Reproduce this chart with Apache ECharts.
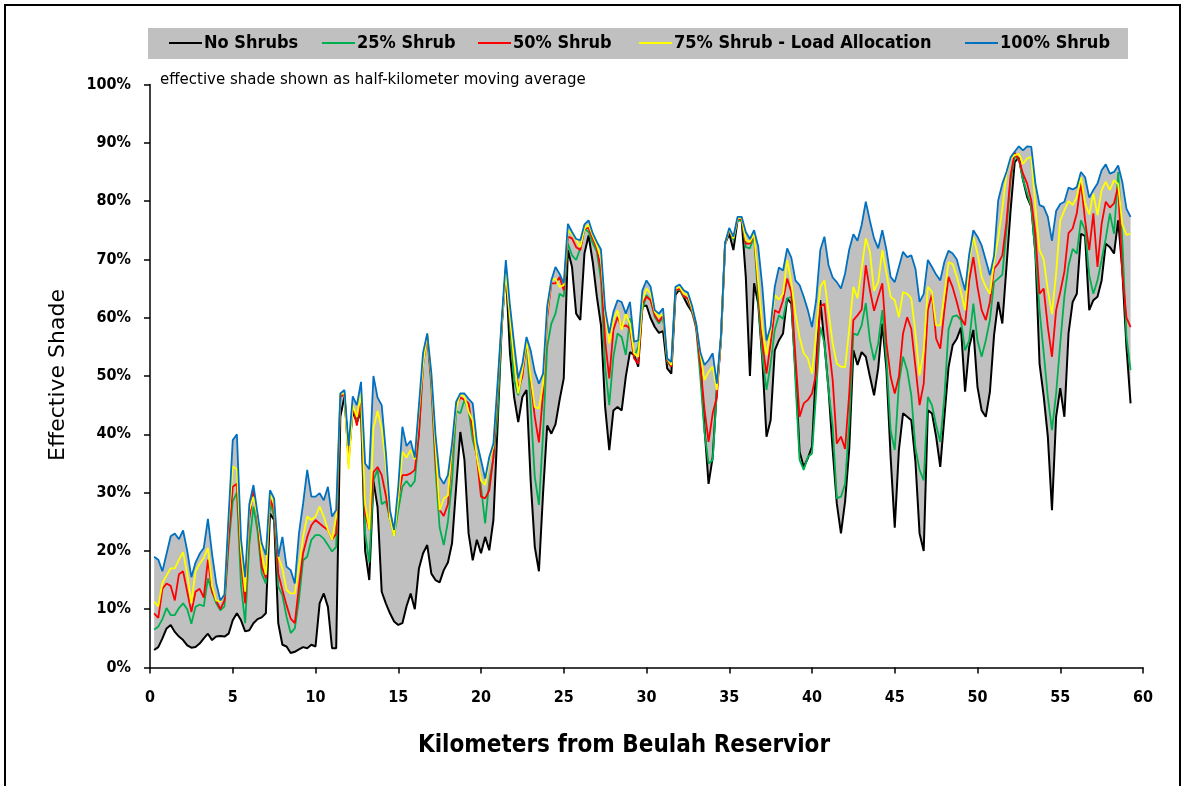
<!DOCTYPE html>
<html>
<head>
<meta charset="utf-8">
<script src="https://cdn.jsdelivr.net/npm/echarts@6/dist/echarts.min.js"></script>
<style>
  html, body { margin: 0; padding: 0; background: #ffffff; }
  #chart { width: 1182px; height: 786px; }
</style>
</head>
<body>
<div id="chart"></div>
<script>
// Effective shade along the stream, sampled every quarter kilometre (values in %)
const KM_START = 0.25;
const KM_STEP = 0.25;

const noShrubs = [
  3.0, 3.5, 5.0, 6.7, 7.3, 6.1, 5.3, 4.7, 3.8, 3.4, 3.5, 4.1, 5.0, 5.8, 4.7, 5.3, 5.4, 5.3, 5.8, 8.1, 9.3, 8.1, 6.2, 6.4,
  7.6, 8.3, 8.6, 9.3, 26.4, 25.3, 7.6, 3.9, 3.6, 2.5, 2.7, 3.1, 3.5, 3.3, 3.9, 3.6, 11, 12.7, 10.4, 3.3, 3.3, 43, 46.5, 36,
  44, 42, 44, 20, 15, 32, 27.5, 13, 11, 9.3, 7.9, 7.3, 7.6, 10.5, 12.7, 10, 17, 19.6, 21, 16.1, 15, 14.6, 16.7, 18,
  21.3, 31, 40.4, 35.6, 23, 18.4, 21.9, 19.6, 22.4, 20.1, 25.3, 41.3, 58.4, 68.1, 53.9, 46.4, 42.1, 46.4, 47.6, 32.1, 20.7, 16.5, 29.9, 41.5,
  40.1, 41.7, 45.9, 49.6, 71.6, 68.7, 60.7, 59.6, 71, 74.1, 69.6, 63.6, 58.7, 44.7, 37.3, 44.1, 44.7, 44.1, 49.9, 54.1, 53.6, 51.6, 61.9, 62.1,
  59.9, 58.4, 57.4, 57.7, 51.3, 50.4, 63.9, 64.9, 63.5, 62.1, 61, 58.8, 52.1, 41.3, 31.5, 36.1, 47.6, 56.4, 72.7, 74.4, 71.6, 76.7, 76.7, 67,
  50, 65.9, 62.4, 52.7, 39.6, 42.4, 54.4, 56.1, 57.3, 63.3, 62.4, 51, 37, 34.4, 35.9, 37.9, 51.6, 63, 55.6, 47.6, 37.3, 28.1, 23, 28.5,
  37.5, 54.4, 51.9, 54.1, 53.3, 49.9, 46.7, 51.3, 59, 51, 36.1, 24, 37.3, 43.6, 43, 42.4, 35.3, 23, 20, 44.1, 43.6, 39.6, 34.4, 43,
  51.5, 55.3, 56.4, 58.3, 47.3, 55, 57.9, 48.1, 44.1, 43, 47.3, 57, 62.7, 59, 68.7, 78.4, 86.7, 87.5, 83.6, 80.7, 79, 71, 52.1, 46.5,
  39.6, 27, 43, 47.9, 43, 57.3, 62.7, 64.1, 74.4, 74, 61.3, 63, 63.6, 66.4, 72.7, 72.1, 71, 76.7, 68.1, 55, 45.3
];

const shrub25 = [
  6.5, 7.0, 8.3, 10.2, 9.0, 9.0, 10.2, 11.0, 10.0, 7.5, 10.4, 10.8, 10.5, 15.3, 13.0, 11.0, 9.8, 10.5, 21, 28.5, 30, 14, 7.6, 21,
  27.6, 23.3, 16.1, 14.4, 28.4, 25.9, 13.9, 12.4, 8.7, 5.9, 6.7, 11.6, 18.4, 19, 21.9, 22.7, 22.7, 22.1, 21, 19.9, 20.7, 46.4, 47, 36,
  45, 42, 45, 23, 18, 32, 34, 28, 28.5, 25.5, 22.5, 27, 31, 32, 31, 32, 40, 52, 57, 48, 34, 24, 21, 25,
  32, 44, 43.6, 45.9, 44, 39, 36.4, 31, 24.7, 32, 35.9, 43.3, 58.4, 68.6, 58.4, 49.3, 46.7, 50.4, 56.1, 44.7, 32.7, 27.9, 40.1, 55,
  59, 60.7, 64.1, 63.6, 72.7, 70.7, 69.9, 71.9, 75.3, 74.7, 72.8, 71.3, 66.4, 51.6, 45, 53.3, 57.3, 56.7, 53.6, 59.9, 53.3, 55, 61.3, 63.9,
  63, 60.1, 59, 60.1, 52.4, 51.6, 64.7, 64.8, 63.6, 63.3, 61, 58.1, 49.9, 40.4, 35, 35.6, 47.6, 56.4, 72.7, 75, 73.3, 76.7, 76.7, 72.1,
  71.9, 73.9, 62.9, 53.3, 47.6, 52.1, 57.9, 60.4, 59.8, 63.3, 63.6, 49, 35.6, 33.9, 36.1, 36.7, 47, 58.4, 55.6, 47.6, 41.3, 29, 29.3, 31.5,
  42, 57.3, 57, 58.7, 62.5, 56.1, 52.7, 55.6, 61.3, 52.7, 40.7, 37.3, 48.7, 53.3, 51, 46.7, 37.6, 33.9, 32.1, 46.4, 45, 41.6, 38.7, 46.4,
  58, 60.2, 60.4, 59.6, 54.4, 56.1, 62.4, 56.1, 53.3, 56.1, 59.6, 66.1, 66.7, 67.4, 75, 83.6, 87.7, 87.1, 83.6, 81.3, 79, 71, 61.3, 54,
  46.4, 40.7, 47, 55.6, 63.7, 68.9, 71.8, 71, 76.7, 75, 67.3, 64.1, 66.4, 69.9, 73.6, 77.9, 74.4, 85, 73.3, 56.7, 51
];

const shrub50 = [
  9.3, 8.5, 13.5, 14.4, 14.0, 11.5, 16.0, 16.5, 13.0, 9.5, 13.0, 13.5, 12.0, 18.5, 13.0, 11.5, 10.0, 11.5, 22, 31, 31.5, 18, 11, 25.5,
  30.4, 25.3, 17.3, 15.3, 29, 27, 16.1, 13.3, 10.7, 8.4, 7.6, 13.9, 19.6, 22.4, 24.4, 25.3, 24.7, 24.1, 23.6, 21.9, 23, 46.4, 47, 35,
  45, 41.5, 46, 26.5, 23.6, 33.5, 34.4, 33, 29.5, 25.5, 23, 29, 33, 33, 33.3, 33.9, 40, 52, 57, 49, 36, 27, 26, 28,
  37, 45, 46.3, 45.9, 45.3, 40.7, 36.1, 29.3, 29, 30.4, 36.1, 47, 59, 67.6, 59.6, 52.7, 47.9, 49.9, 56.1, 49.3, 43, 38.6, 47, 60,
  65.9, 65.9, 67, 64.7, 73.9, 73.6, 72.1, 71.6, 75.3, 75.4, 73.6, 71.9, 68.1, 56.1, 49.6, 57.9, 60.1, 58.4, 58.7, 58.1, 53, 52.1, 62.4, 63.6,
  63, 60.4, 59.3, 60.4, 52.7, 51.6, 64.7, 65, 63.7, 63.3, 61.3, 58.4, 52.1, 44.4, 38.7, 43.6, 46.4, 56.4, 72.7, 75, 73.6, 76.9, 77, 72.7,
  72.7, 74.4, 65, 55.6, 50.4, 55.6, 61.3, 60.8, 63, 66.7, 64.4, 53.3, 43, 45.3, 45.9, 47, 50.4, 61.9, 62.4, 55.6, 49.3, 38.4, 39.6, 37.5,
  47, 59.6, 60.4, 61.4, 69, 64.7, 61.2, 63.6, 65.9, 55.6, 49.9, 47, 49.9, 57.3, 60.1, 58.1, 51.6, 45, 48.7, 61.3, 64.1, 56.4, 54.7, 61.3,
  67, 65.2, 62.7, 59.9, 58.7, 66.4, 70.4, 65.3, 61.3, 59.6, 62.7, 68.4, 69.3, 70.7, 76.4, 84.4, 88.3, 87.1, 84.7, 83, 80.1, 74.4, 64.1, 65,
  58.4, 53.3, 61.3, 64.4, 67.9, 74.5, 75.3, 77.9, 83.3, 76.7, 71.6, 77.9, 68.7, 76.1, 79.9, 78.9, 79.6, 82.6, 67.6, 60, 58.4
];

const shrub75 = [
  11.3, 10.5, 14.5, 15.8, 17.0, 17.0, 18.5, 19.8, 16.0, 11.0, 16.5, 17.8, 18.8, 20.5, 14, 11.5, 11.3, 12.5, 25, 34.5, 34, 20, 13, 27,
  29.3, 25.9, 19.6, 15.9, 29.9, 28.1, 19, 17, 13.3, 12.7, 12.7, 17.3, 22.4, 25.9, 25.3, 25.9, 27.6, 25.9, 23.6, 21.9, 25.9, 47, 47, 34,
  45, 43, 47, 28, 23.6, 41, 44, 41, 35, 25.5, 22.5, 29, 37, 36, 37.3, 35.7, 44, 52, 57.3, 50, 38, 27, 29, 29.5,
  37.9, 44.4, 47, 46.4, 43.9, 42.4, 36.1, 32.1, 31.3, 35.6, 37.9, 48.1, 59, 67.6, 60.1, 52.7, 47, 51, 56.1, 49.9, 44.7, 44.4, 48.7, 61,
  66.4, 66.7, 65.3, 65.6, 75, 74.4, 73.3, 72.1, 75.3, 76, 74.1, 72.4, 70.1, 61, 55.6, 59.6, 61.3, 57.9, 60.7, 59, 53.9, 53.3, 63, 65,
  64.1, 61, 60.1, 60.7, 53, 51.9, 65, 65.3, 64.1, 63.9, 61.6, 59, 53.9, 49.3, 50.7, 51.6, 47.6, 56.7, 72.7, 75.2, 73.6, 77, 77.2, 73.3,
  73, 74.4, 66.1, 58.1, 53.6, 57.9, 63.9, 63.1, 64.1, 69.9, 66.1, 60.7, 56.6, 53.9, 53, 50.4, 57.3, 65.3, 66.4, 61, 55.6, 52.1, 51.6, 51.5,
  58, 65.3, 63.3, 68.4, 73.6, 71.3, 64.6, 66.1, 71.6, 67.6, 63.6, 63, 60.1, 64.4, 64.1, 63.3, 57.3, 50.1, 54.4, 65.3, 64.4, 58.7, 58.7, 64.1,
  69.5, 69.2, 67, 64.4, 61.3, 69.9, 73.9, 71, 67, 65.3, 64.1, 69.6, 73.6, 78.7, 84.7, 87.3, 87.9, 88.1, 86.4, 87.3, 87.6, 79, 71.6, 70,
  64.7, 60.6, 67.6, 76.7, 78.4, 80, 79.3, 80.7, 84.1, 79.6, 77.7, 81.3, 77.6, 81.9, 83.3, 81.9, 83.6, 82.9, 76, 74.2, 74.4
];

const shrub100 = [
  19, 18.5, 16.5, 19.5, 22.5, 23, 22, 23.5, 20, 15.5, 18, 19.5, 20.5, 25.5, 19.5, 14.5, 11.5, 12.5, 26, 39, 40, 22, 15.5, 28,
  31.3, 26.4, 21.3, 19.3, 30.4, 29, 19, 22.4, 17.3, 16.7, 14.4, 23, 28.1, 33.9, 29.3, 29.3, 29.9, 28.7, 31, 25.9, 27, 47, 47.6, 38,
  46.5, 45, 49, 35, 34, 50, 46.3, 45, 37, 27, 23.6, 31, 41.3, 38, 38.9, 36, 45, 54, 57.3, 50.5, 40, 32.7, 31.5, 33,
  38.4, 45.6, 47, 47, 46.1, 45.3, 38.7, 35.6, 32.4, 36.1, 38.4, 48.7, 59.6, 69.9, 62.1, 55.6, 49.6, 52.1, 56.7, 54.4, 50.7, 48.7, 50.4, 62,
  66.4, 68.7, 67.5, 65.9, 76.1, 74.7, 73.5, 73.3, 76, 76.7, 74.5, 73, 71.7, 61.5, 57.3, 61, 63, 62.7, 60.7, 62.7, 55.9, 56.1, 64.7, 66.4,
  65.3, 61.3, 60.7, 61.6, 53, 52.4, 65.3, 65.7, 64.7, 64.3, 62.1, 59, 54.1, 51.9, 52.7, 53.9, 48.7, 57, 72.9, 75.4, 73.9, 77.3, 77.3, 74.7,
  73.5, 75, 72.2, 65.3, 56.1, 58.5, 65.3, 68.6, 68.1, 71.9, 70.3, 66.4, 65.6, 63.6, 61.3, 58.4, 63, 71.6, 73.9, 69, 66.9, 66.1, 65, 67.6,
  71.7, 74.3, 73.2, 75.9, 79.9, 76.6, 73.6, 71.9, 75, 71.6, 67, 66.1, 68.7, 71.3, 70.4, 70.7, 68.4, 62.7, 64.1, 69.9, 68.7, 67.4, 66.4, 69.6,
  71.5, 71, 70, 67.3, 64.7, 70.9, 75, 73.9, 72.4, 69.9, 67.3, 70.7, 80.1, 83, 85, 87.5, 88.5, 89.4, 88.7, 89.4, 89.3, 83, 79.3, 79,
  77.3, 73.2, 78.3, 79.5, 79.9, 82.3, 82, 82.4, 85, 84.1, 80.6, 81.9, 83, 85.3, 86.3, 84.7, 85, 86.1, 83.3, 78.7, 77.3
];

const seriesNames = ['No Shrubs', '25% Shrub', '50% Shrub', '75% Shrub - Load Allocation', '100% Shrub'];
const seriesColors = ['#000000', '#00b050', '#ff0000', '#ffff00', '#0070c0'];
const legendLeft = [169, 322, 478, 639, 965];
const xTicks = { min: 0, max: 60, interval: 5 };
const yTicks = { min: 0, max: 100, interval: 10 };

// distance along the stream for every sample
const km = noShrubs.map((_, i) => +(KM_START + i * KM_STEP).toFixed(2));
const toPairs = arr => arr.map((v, i) => [km[i], v]);

const FONT = '"DejaVu Sans Condensed", "DejaVu Sans", sans-serif';
const FONT_WIDE = '"DejaVu Sans", sans-serif';
const lineValues = [noShrubs, shrub25, shrub50, shrub75, shrub100];

const chart = echarts.init(document.getElementById('chart'), null, { renderer: 'canvas' });

// grey band between the no-shrub line and the 100% shrub line
function renderBand(params, api) {
  const upper = km.map((x, i) => api.coord([x, shrub100[i]]));
  const lower = km.map((x, i) => api.coord([x, noShrubs[i]])).reverse();
  return {
    type: 'polygon',
    shape: { points: upper.concat(lower) },
    style: { fill: '#c0c0c0', stroke: null }
  };
}

const lineSeries = seriesNames.map((name, i) => ({
  name: name,
  type: 'line',
  data: toPairs(lineValues[i]),
  symbol: 'none',
  color: seriesColors[i],
  lineStyle: { color: seriesColors[i], width: i === 0 ? 2 : 1.8 },
  z: 3 + i,
  silent: true
}));

const option = {
  animation: false,
  backgroundColor: '#ffffff',
  grid: { left: 150, top: 84.5, width: 993, height: 583, containLabel: false },
  xAxis: {
    type: 'value',
    min: xTicks.min, max: xTicks.max, interval: xTicks.interval,
    axisLine: { show: true, lineStyle: { color: '#000', width: 1.5 } },
    axisTick: { show: true, length: 6, lineStyle: { color: '#000', width: 1.5 } },
    axisLabel: { color: '#000', fontFamily: FONT, fontSize: 16, fontWeight: 'bold', margin: 22 },
    splitLine: { show: false }
  },
  yAxis: {
    type: 'value',
    min: yTicks.min, max: yTicks.max, interval: yTicks.interval,
    axisLine: { show: true, lineStyle: { color: '#000', width: 1.5 } },
    axisTick: { show: true, length: 6, lineStyle: { color: '#000', width: 1.5 } },
    axisLabel: { color: '#000', fontFamily: FONT, fontSize: 16, fontWeight: 'bold', margin: 19, formatter: '{value}%' },
    splitLine: { show: false }
  },
  legend: seriesNames.map((name, i) => ({
    data: [name],
    left: legendLeft[i],
    top: 34,
    padding: 0,
    itemWidth: 33,
    itemHeight: 2,
    icon: 'rect',
    selectedMode: false,
    textStyle: { fontFamily: FONT, fontSize: 18, fontWeight: 'bold', color: '#000', padding: [0, 0, 0, -3] }
  })),
  graphic: [
    { type: 'rect', z: -10, shape: { x: 5, y: 5, width: 1175, height: 800 },
      style: { fill: 'none', stroke: '#000', lineWidth: 2 } },
    { type: 'rect', z: -5, shape: { x: 148, y: 28, width: 980, height: 31 },
      style: { fill: '#c0c0c0' } },
    { type: 'text', left: 160, top: 73,
      style: { text: 'effective shade shown as half-kilometer moving average', fill: '#000',
               font: '15px ' + FONT_WIDE } },
    { type: 'text', x: 58, y: 375, rotation: Math.PI / 2,
      style: { text: 'Effective Shade', fill: '#000', font: '22px ' + FONT_WIDE,
               align: 'center', verticalAlign: 'middle', textAlign: 'center', textVerticalAlign: 'middle' } },
    { type: 'text', x: 624, y: 746,
      style: { text: 'Kilometers from Beulah Reservior', fill: '#000', font: 'bold 24px ' + FONT,
               align: 'center', verticalAlign: 'middle', textAlign: 'center', textVerticalAlign: 'middle' } }
  ],
  series: [
    {
      name: 'band', type: 'custom', renderItem: renderBand,
      data: [[0, 0]], encode: { x: 0, y: 1 }, silent: true, z: 1, clip: true
    }
  ].concat(lineSeries)
};

chart.setOption(option);
</script>
</body>
</html>
